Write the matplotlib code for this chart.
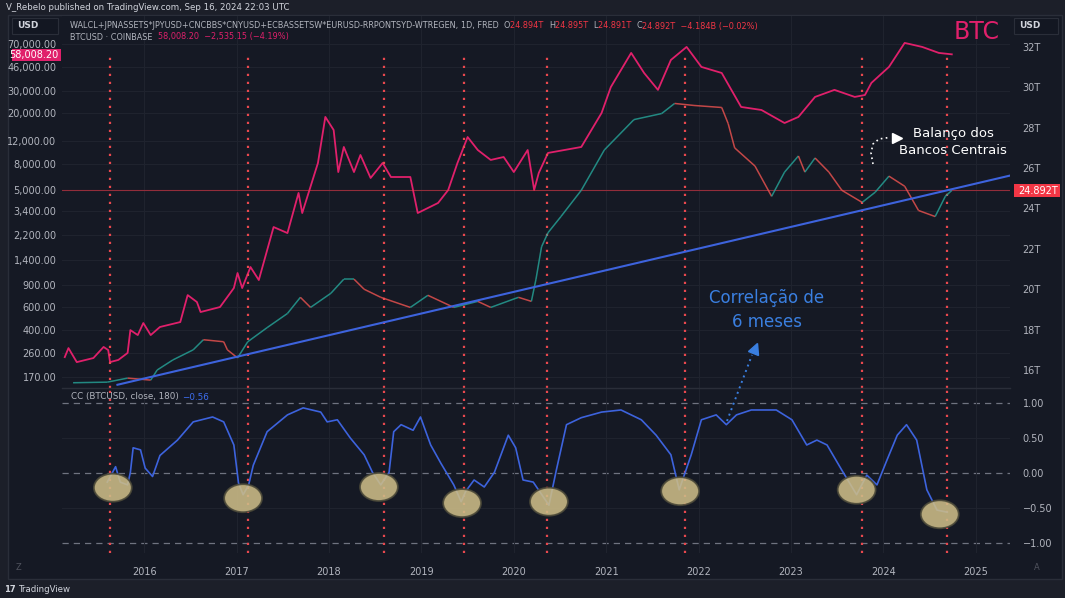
import matplotlib
matplotlib.use("Agg")
import matplotlib.pyplot as plt
from matplotlib.patches import Ellipse, Rectangle
from matplotlib.markers import MarkerStyle
from matplotlib.transforms import Affine2D
from matplotlib.collections import LineCollection

W, H = 1065, 598

# --- data (time in fractional years) ---
btc_t = [2015.14, 2015.18, 2015.27, 2015.45, 2015.56, 2015.61, 2015.63, 2015.72, 2015.82,
         2015.85, 2015.93, 2015.99, 2016.07, 2016.17, 2016.39, 2016.47, 2016.57, 2016.61,
         2016.82, 2016.97, 2017.01, 2017.06, 2017.15, 2017.24, 2017.40, 2017.55, 2017.67,
         2017.71, 2017.88, 2017.96, 2018.05, 2018.10, 2018.16, 2018.27, 2018.34, 2018.45,
         2018.58, 2018.67, 2018.88, 2018.96, 2019.18, 2019.29, 2019.39, 2019.50, 2019.61,
         2019.75, 2019.89, 2020.00, 2020.15, 2020.22, 2020.27, 2020.37, 2020.73, 2020.95,
         2021.05, 2021.27, 2021.41, 2021.56, 2021.70, 2021.87, 2022.03, 2022.25, 2022.46,
         2022.68, 2022.93, 2023.08, 2023.26, 2023.47, 2023.69, 2023.80, 2023.87, 2024.06,
         2024.23, 2024.42, 2024.60, 2024.74]
btc_p = [243, 286, 222, 239, 292, 276, 222, 231, 262,
         396, 362, 450, 362, 419, 458, 746, 658, 549,
         601, 847, 1112, 847, 1239, 979, 2553, 2290, 4730,
         3290, 8130, 18700, 14760, 6900, 10860, 6900, 9400, 6200,
         8130, 6310, 6310, 3290, 3945, 4990, 8130, 13000, 10280,
         8590, 9060, 6900, 10280, 4990, 6790, 9750, 10860, 20100,
         32100, 59500, 41400, 30500, 52400, 66300, 46200, 41400, 22400,
         21200, 16750, 18700, 26850, 30500, 26850, 27800, 34600, 46200,
         71300, 66300, 59500, 58008]

bal_t = [2015.23, 2015.60, 2015.82, 2016.07, 2016.14, 2016.31, 2016.53, 2016.64, 2016.86,
         2016.90, 2017.01, 2017.12, 2017.33, 2017.55, 2017.69, 2017.80, 2018.02, 2018.16,
         2018.27, 2018.38, 2018.56, 2018.88, 2019.07, 2019.35, 2019.61, 2019.75, 2020.05,
         2020.19, 2020.24, 2020.30, 2020.37, 2020.51, 2020.73, 2020.98, 2021.30, 2021.60,
         2021.74, 2021.95, 2022.25, 2022.32, 2022.39, 2022.61, 2022.79, 2022.93, 2023.08,
         2023.15, 2023.26, 2023.41, 2023.55, 2023.77, 2023.91, 2024.06, 2024.23, 2024.38,
         2024.56, 2024.67, 2024.74]
bal_v = [15.37, 15.4, 15.6, 15.5, 16.0, 16.5, 17.0, 17.5, 17.4,
         17.0, 16.6, 17.4, 18.1, 18.8, 19.6, 19.1, 19.8, 20.5,
         20.5, 20.0, 19.6, 19.1, 19.7, 19.1, 19.4, 19.1, 19.6,
         19.4, 20.5, 22.1, 22.8, 23.6, 24.9, 26.9, 28.4, 28.7,
         29.2, 29.1, 29.0, 28.2, 27.0, 26.1, 24.6, 25.8, 26.6,
         25.8, 26.5, 25.8, 24.9, 24.3, 24.8, 25.6, 25.1, 23.9,
         23.6, 24.6, 24.892]

cc_t = [2015.60, 2015.69, 2015.74, 2015.82, 2015.85, 2015.88, 2015.96, 2016.01, 2016.09,
        2016.17, 2016.36, 2016.53, 2016.74, 2016.86, 2016.97, 2017.02, 2017.07, 2017.13,
        2017.18, 2017.33, 2017.55, 2017.72, 2017.91, 2017.98, 2018.09, 2018.23, 2018.38,
        2018.47, 2018.56, 2018.65, 2018.70, 2018.78, 2018.91, 2018.99, 2019.10, 2019.21,
        2019.35, 2019.43, 2019.48, 2019.57, 2019.68, 2019.79, 2019.94, 2020.02, 2020.10,
        2020.21, 2020.38, 2020.46, 2020.57, 2020.73, 2020.95, 2021.16, 2021.38, 2021.54,
        2021.70, 2021.79, 2021.92, 2022.03, 2022.19, 2022.30, 2022.41, 2022.57, 2022.84,
        2023.01, 2023.17, 2023.28, 2023.39, 2023.55, 2023.71, 2023.82, 2023.93, 2024.04,
        2024.15, 2024.25, 2024.36, 2024.47, 2024.58, 2024.69]
cc_v = [-0.13, 0.09, -0.13, -0.17, 0.01, 0.36, 0.33, 0.07, -0.05,
        0.25, 0.47, 0.73, 0.80, 0.73, 0.40, -0.14, -0.31, -0.17,
        0.11, 0.59, 0.83, 0.93, 0.87, 0.73, 0.76, 0.50, 0.26,
        0.01, -0.17, 0.01, 0.59, 0.69, 0.61, 0.80, 0.40, 0.14,
        -0.17, -0.41, -0.26, -0.10, -0.20, 0.01, 0.54, 0.36, -0.10,
        -0.13, -0.46, 0.04, 0.69, 0.79, 0.87, 0.90, 0.76, 0.54,
        0.26, -0.24, 0.26, 0.76, 0.83, 0.69, 0.83, 0.90, 0.90,
        0.76, 0.40, 0.47, 0.40, 0.04, -0.31, -0.03, -0.17, 0.19,
        0.54, 0.69, 0.47, -0.24, -0.53, -0.56]

cut_t = [2015.63, 2017.12, 2018.59, 2019.46, 2020.36, 2021.85, 2023.77, 2024.69]
circ_t = [2015.66, 2017.07, 2018.54, 2019.44, 2020.38, 2021.80, 2023.71, 2024.61]
circ_v = [-0.21, -0.36, -0.20, -0.43, -0.41, -0.26, -0.24, -0.59]
trend_t = [2015.71, 2025.39]
trend_v = [15.27, 25.65]

years = list(range(2016, 2026))
btc_ticks = [170, 260, 400, 600, 900, 1400, 2200, 3400, 5000, 8000, 12000, 20000, 30000, 46000, 70000]
bal_ticks = [16, 18, 20, 22, 24, 26, 28, 30, 32]
cc_ticks = [1.0, 0.5, 0.0, -0.5, -1.0]

BG = '#151924'
GRID = '#20242f'
TXT = '#b2b5be'
PINK = '#e0206b'
RED = '#f23645'
CUT = '#e8484e'
BLUE = '#3d63dd'

fig = plt.figure(figsize=(W / 100, H / 100), dpi=100, facecolor='#1c1f29')


def fx(x):
    return x / W


def fy(y):
    return 1 - y / H


fig.patches.append(Rectangle((fx(8), fy(579)), fx(1054), (579 - 15) / H, transform=fig.transFigure,
                             facecolor=BG, edgecolor='#2a2e39', lw=1, zorder=-5))

L, R = 62, 1010
ax1 = fig.add_axes([fx(L), fy(388), (R - L) / W, (388 - 16) / H])
ax3 = fig.add_axes([fx(L), fy(553), (R - L) / W, (553 - 388) / H], sharex=ax1)
ax2 = ax1.twinx()

for a in (ax1, ax3):
    a.set_facecolor(BG)
for a in (ax1, ax2, ax3):
    for s in a.spines.values():
        s.set_visible(False)

# upper pane: BTC (log, left) and balance sheet (right)
ax1.set_yscale('log')
ax1.set_ylim(139, 116000)
ax1.set_xlim(2015.11, 2025.37)
ax1.set_yticks(btc_ticks)
ax1.set_yticklabels([f'{v:,.2f}' for v in btc_ticks])
ax1.yaxis.set_minor_locator(matplotlib.ticker.NullLocator())
ax1.tick_params(axis='y', length=0, pad=4, labelcolor=TXT, labelsize=7)
ax1.tick_params(axis='x', length=0, labelbottom=False)
ax1.set_xticks(years)
ax1.grid(True, color=GRID, lw=0.7)
ax1.set_axisbelow(True)

ax2.set_ylim(15.11, 33.53)
ax2.set_yticks(bal_ticks)
ax2.set_yticklabels([f'{v}T' for v in bal_ticks])
ax2.tick_params(axis='y', length=0, pad=9, labelcolor=TXT, labelsize=7)

ax1.plot(btc_t, btc_p, color=PINK, lw=1.3, zorder=3)

segs, cols = [], []
for i in range(1, len(bal_t)):
    segs.append([(bal_t[i - 1], bal_v[i - 1]), (bal_t[i], bal_v[i])])
    cols.append('#26a69a' if bal_v[i] >= bal_v[i - 1] else '#ef5350')
ax2.add_collection(LineCollection(segs, colors=cols, lw=1.1, alpha=0.8, zorder=3))
ax2.plot(trend_t, trend_v, color=BLUE, lw=1.5, zorder=4)
ax2.axhline(bal_v[-1], color=RED, lw=0.8, alpha=0.55, zorder=2)

for t in cut_t:
    ax1.axvline(t, ymax=0.9, color=CUT, lw=1.6, ls=(0, (1, 2.6)), zorder=5)
    ax3.axvline(t, color=CUT, lw=1.6, ls=(0, (1, 2.6)), zorder=2)

# lower pane: 180-day correlation
ax3.set_ylim(-1.143, 1.214)
ax3.set_yticks(cc_ticks)
ax3.set_yticklabels([f'{v:.2f}'.replace('-', '\u2212') for v in cc_ticks])
ax3.yaxis.tick_right()
ax3.tick_params(axis='y', length=0, pad=9, labelcolor=TXT, labelsize=7)
ax3.set_xticks(years)
ax3.set_xticklabels([str(y) for y in years])
ax3.tick_params(axis='x', length=0, pad=10, labelcolor=TXT, labelsize=7)
ax3.grid(True, axis='x', color=GRID, lw=0.7)
for v in (0.5, -0.5):
    ax3.axhline(v, color=GRID, lw=0.7, zorder=0)
for v in (1.0, 0.0, -1.0):
    ax3.axhline(v, color='#6f7380', lw=0.9, ls=(0, (5, 4)), zorder=1)
ax3.plot(cc_t, cc_v, color=BLUE, lw=1.2, zorder=3)
for t, v in zip(circ_t, circ_v):
    ax3.add_patch(Ellipse((t, v), 0.41, 0.40, facecolor='#cdbd88', edgecolor='#4a4838',
                          lw=1.3, alpha=0.88, zorder=6))
fig.add_artist(plt.Line2D([fx(L), fx(R)], [fy(388), fy(388)], color='#2a2e39', lw=1))

# overlay in pixel coordinates for texts / labels
ov = fig.add_axes([0, 0, 1, 1], zorder=10)
ov.set_xlim(0, W)
ov.set_ylim(H, 0)
ov.axis('off')
ov.patch.set_alpha(0)
r = fig.canvas.get_renderer()


def seq(x, y, parts, size):
    for s, c in parts:
        t = ov.text(x, y, s, color=c, fontsize=size, va='center', ha='left')
        x += t.get_window_extent(renderer=r).width


ov.text(6, 8, 'V_Rebelo published on TradingView.com, Sep 16, 2024 22:03 UTC', color='#d1d4dc',
        fontsize=6.2, va='center')
seq(70, 26, [('WALCL+JPNASSETS*JPYUSD+CNCBBS*CNYUSD+ECBASSETSW*EURUSD-RRPONTSYD-WTREGEN, 1D, FRED  ', TXT),
             ('O', TXT), ('24.894T  ', RED), ('H', TXT), ('24.895T  ', RED), ('L', TXT),
             ('24.891T  ', RED), ('C', TXT), ('24.892T  \u22124.184B (\u22120.02%)', RED)], 5.9)
seq(70, 37, [('BTCUSD \u00b7 COINBASE  ', TXT), ('58,008.20  \u22122,535.15 (\u22124.19%)', PINK)], 5.9)

for x0, x1 in ((12, 58), (1014, 1058)):
    ov.add_patch(Rectangle((x0, 18), x1 - x0, 16, facecolor='#131722', edgecolor='#2a2e39', lw=0.8))
    ov.text(x0 + 5, 26, 'USD', color='#d1d4dc', fontsize=6.5, weight='bold', va='center')

ov.add_patch(Rectangle((12, 49), 49, 12, facecolor=PINK, edgecolor='none'))
ov.text(58, 55, '58,008.20', color='white', fontsize=7, ha='right', va='center')
ov.add_patch(Rectangle((1014, 184), 46, 13, facecolor=RED, edgecolor='none'))
ov.text(1018, 190.5, '24.892T', color='white', fontsize=7, va='center')

ov.text(71, 397, 'CC (BTCUSD, close, 180)', color=TXT, fontsize=6.3, va='center')
ov.text(182, 397, '\u22120.56', color='#3d6ef0', fontsize=6.3, va='center')

ov.text(977, 32, 'BTC', color=PINK, fontsize=17, ha='center', va='center')
ov.text(953, 133, 'Balan\u00e7o dos', color='white', fontsize=9.5, ha='center', va='center')
ov.text(953, 150, 'Bancos Centrais', color='white', fontsize=9.5, ha='center', va='center')
ov.plot([873, 871, 873, 879, 889], [164, 153, 144, 139, 137.5], color='white', lw=1.2, ls=(0, (1, 2)))
ov.plot([897], [137.5], marker='>', color='white', ms=7)

ov.text(767, 298, 'Correla\u00e7\u00e3o de', color='#3a7fe0', fontsize=12, ha='center', va='center')
ov.text(767, 322, '6 meses', color='#3a7fe0', fontsize=12, ha='center', va='center')
ov.plot([727, 752], [421, 355], color='#3a7fe0', lw=1.4, ls=(0, (1, 2)))
ov.plot([755], [348], marker=MarkerStyle('^', transform=Affine2D().rotate_deg(-21)),
        color='#3a7fe0', ms=8)

ov.text(18, 567, 'Z', color='#50535e', fontsize=6, ha='center', va='center')
ov.text(1037, 567, 'A', color='#50535e', fontsize=6, ha='center', va='center')
ov.text(4, 590, '17', color='#d1d4dc', fontsize=6, weight='bold', va='center')
ov.text(19, 590, 'TradingView', color='#d1d4dc', fontsize=6.2, va='center')

fig.savefig('out.png', dpi=100, facecolor=fig.get_facecolor())
